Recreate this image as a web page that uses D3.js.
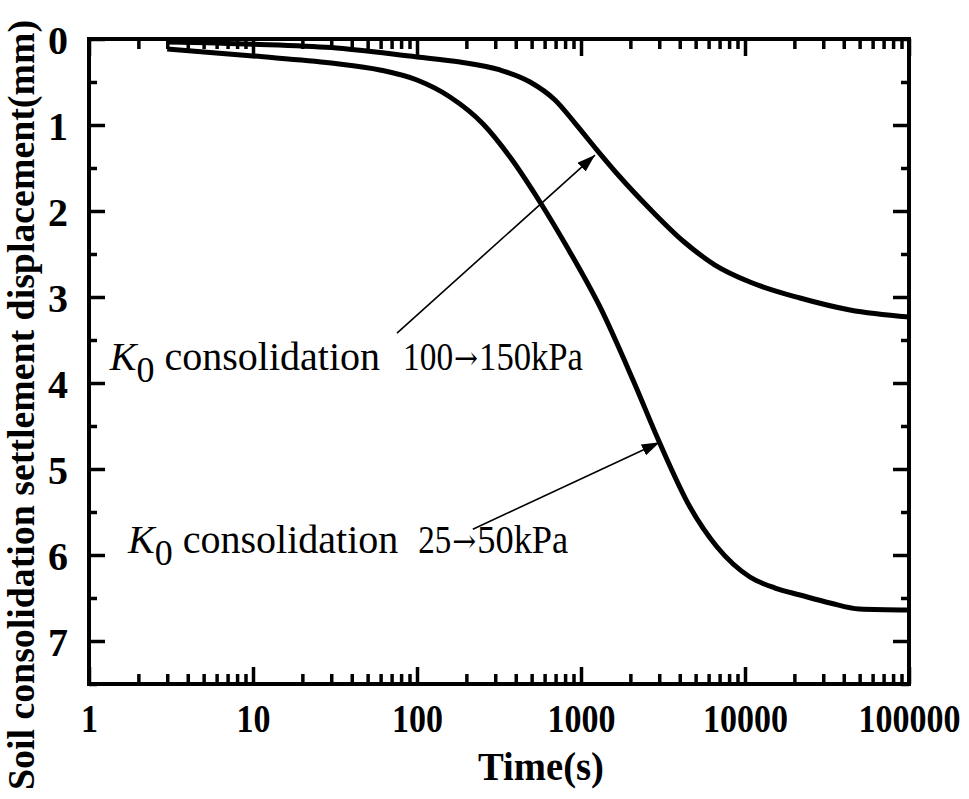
<!DOCTYPE html>
<html>
<head>
<meta charset="utf-8">
<script src="https://cdn.jsdelivr.net/npm/d3@7"></script>
<style>
  body { margin: 0; background: #fff; }
  text { font-family: "Liberation Serif", "Times New Roman", "DejaVu Serif", serif; }
</style>
</head>
<body>
<svg id="chart" width="969" height="799"></svg>
<script>
// K0 consolidation 100 -> 150 kPa (upper curve)
const timeA = [3, 10, 30, 100, 183, 321, 489, 694, 919, 1252, 1729, 2634, 4188, 6561, 10720, 21650, 43650, 100000];
const settleA = [0.035, 0.06, 0.1, 0.209, 0.267, 0.36, 0.5, 0.709, 0.977, 1.291, 1.605, 1.977, 2.349, 2.628, 2.826, 3.012, 3.151, 3.233];

// K0 consolidation 25 -> 50 kPa (lower curve)
const timeB = [3, 10, 30, 59.5, 100, 159, 253, 369, 562, 822, 1306, 2075, 3020, 4620, 6760, 10720, 15240, 21650, 32990, 49600, 100000];
const settleB = [0.116, 0.198, 0.279, 0.36, 0.477, 0.674, 0.988, 1.372, 1.895, 2.419, 3.116, 3.965, 4.698, 5.442, 5.907, 6.256, 6.384, 6.465, 6.558, 6.628, 6.64];

const xMajor = [1, 10, 100, 1000, 10000, 100000];
const yMajor = [0, 1, 2, 3, 4, 5, 6, 7];
const yMinor = [0.5, 1.5, 2.5, 3.5, 4.5, 5.5, 6.5, 7.5];

// annotations: label start, load from/to, arrow tail, arrow tip (data units)
const notes = [
  { t: 1.34, v: 3.85, from: "100", to: "150kPa", gap: 23, fromW: 50, toW: 104, tail: [75.5, 3.42], tip: [1217, 1.35] },
  { t: 1.73, v: 5.98, from: "25", to: "50kPa", gap: 20, fromW: 33, toW: 91, tail: [219, 5.70], tip: [3020, 4.69] }
];

const svg = d3.select("#chart");
const x = d3.scaleLog().domain([1, 100000]).range([89, 909]);
const y = d3.scaleLinear().domain([0, 7.5]).range([39, 684]);

let xMinor = [];
for (let d = 1; d < 100000; d *= 10) {
  for (let k = 2; k <= 9; k++) xMinor.push(d * k);
}

function styleAxis(g) {
  g.select(".domain").remove();
  g.selectAll(".tick line").attr("stroke", "#000").attr("stroke-width", 3.5);
}

// bottom
svg.append("g").attr("transform", "translate(0,684)")
  .call(d3.axisBottom(x).tickValues(xMinor).tickSize(-10).tickFormat(""))
  .call(styleAxis);
let bx = svg.append("g").attr("transform", "translate(0,684)")
  .call(d3.axisBottom(x).tickValues(xMajor).tickSize(-17).tickFormat(d3.format("d")))
  .call(styleAxis);
bx.selectAll(".tick text")
  .attr("y", 48).attr("dy", 0)
  .attr("font-size", 40).attr("font-weight", "bold").attr("fill", "#000")
  .attr("transform", "scale(0.85,1)");

// top
svg.append("g").attr("transform", "translate(0,39)")
  .call(d3.axisTop(x).tickValues(xMinor).tickSize(-10).tickFormat(""))
  .call(styleAxis);
svg.append("g").attr("transform", "translate(0,39)")
  .call(d3.axisTop(x).tickValues(xMajor).tickSize(-17).tickFormat(""))
  .call(styleAxis);

// left
svg.append("g").attr("transform", "translate(89,0)")
  .call(d3.axisLeft(y).tickValues(yMinor).tickSize(-8).tickFormat(""))
  .call(styleAxis);
let ly = svg.append("g").attr("transform", "translate(89,0)")
  .call(d3.axisLeft(y).tickValues(yMajor).tickSize(-16).tickFormat(d3.format("d")))
  .call(styleAxis);
ly.selectAll(".tick text")
  .attr("x", -21).attr("dy", "0.35em")
  .attr("font-size", 40).attr("font-weight", "bold").attr("fill", "#000")
  .attr("text-anchor", "end");

// right
svg.append("g").attr("transform", "translate(909,0)")
  .call(d3.axisRight(y).tickValues(yMinor).tickSize(-8).tickFormat(""))
  .call(styleAxis);
svg.append("g").attr("transform", "translate(909,0)")
  .call(d3.axisRight(y).tickValues(yMajor).tickSize(-16).tickFormat(""))
  .call(styleAxis);

// frame
svg.append("rect")
  .attr("x", x(1)).attr("y", y(0))
  .attr("width", x(100000) - x(1)).attr("height", y(7.5) - y(0))
  .attr("fill", "none").attr("stroke", "#000").attr("stroke-width", 4);

// curves
const line = d3.line().x(d => x(d[0])).y(d => y(d[1])).curve(d3.curveMonotoneX);
[[timeA, settleA], [timeB, settleB]].forEach(([ts, vs]) => {
  svg.append("path")
    .datum(ts.map((t, i) => [t, vs[i]]))
    .attr("d", line)
    .attr("fill", "none").attr("stroke", "#000").attr("stroke-width", 5)
    .attr("stroke-linejoin", "round");
});

// arrow marker
svg.append("defs").append("marker")
  .attr("id", "head").attr("viewBox", "0 0 18 12")
  .attr("refX", 18).attr("refY", 6)
  .attr("markerWidth", 18).attr("markerHeight", 12)
  .attr("markerUnits", "userSpaceOnUse").attr("orient", "auto")
  .append("path").attr("d", "M0,0 L18,6 L0,12 Z").attr("fill", "#000");

// squeezed text piece: fits the text into width w by a horizontal scale
function piece(str, px, py, w, size, family) {
  let t = svg.append("text").attr("font-size", size).attr("fill", "#000").text(str);
  if (family) t.style("font-family", family);
  let nat = t.node().getComputedTextLength();
  t.attr("transform", `translate(${px},${py}) scale(${w / nat},1)`);
  return t;
}

notes.forEach(n => {
  svg.append("line")
    .attr("x1", x(n.tail[0])).attr("y1", y(n.tail[1]))
    .attr("x2", x(n.tip[0])).attr("y2", y(n.tip[1]))
    .attr("stroke", "#000").attr("stroke-width", 1.6)
    .attr("marker-end", "url(#head)");

  let tx = svg.append("text")
    .attr("x", x(n.t)).attr("y", y(n.v))
    .attr("font-size", 40).attr("fill", "#000");
  tx.append("tspan").attr("font-style", "italic").text("K");
  tx.append("tspan").attr("dy", 12).attr("font-size", 36).text("0");
  tx.append("tspan").attr("dy", -12).text(" consolidation");
  let x0 = x(n.t) + tx.node().getComputedTextLength() + n.gap;

  piece(n.from, x0, y(n.v), n.fromW, 40);
  piece("\u2192", x0 + n.fromW + 1, y(n.v) - 1, 24, 32, "'DejaVu Serif', serif");
  piece(n.to, x0 + n.fromW + 26, y(n.v), n.toW, 40);
});

// axis titles
svg.append("text")
  .attr("x", 541).attr("y", 780)
  .attr("text-anchor", "middle")
  .attr("font-size", 40).attr("font-weight", "bold")
  .attr("textLength", 126).attr("lengthAdjust", "spacingAndGlyphs")
  .text("Time(s)");

svg.append("text")
  .attr("transform", "translate(34,405) rotate(-90)")
  .attr("text-anchor", "middle")
  .attr("font-size", 38).attr("font-weight", "bold")
  .attr("textLength", 770).attr("lengthAdjust", "spacingAndGlyphs")
  .text("Soil consolidation settlement displacement(mm)");
</script>
</body>
</html>
